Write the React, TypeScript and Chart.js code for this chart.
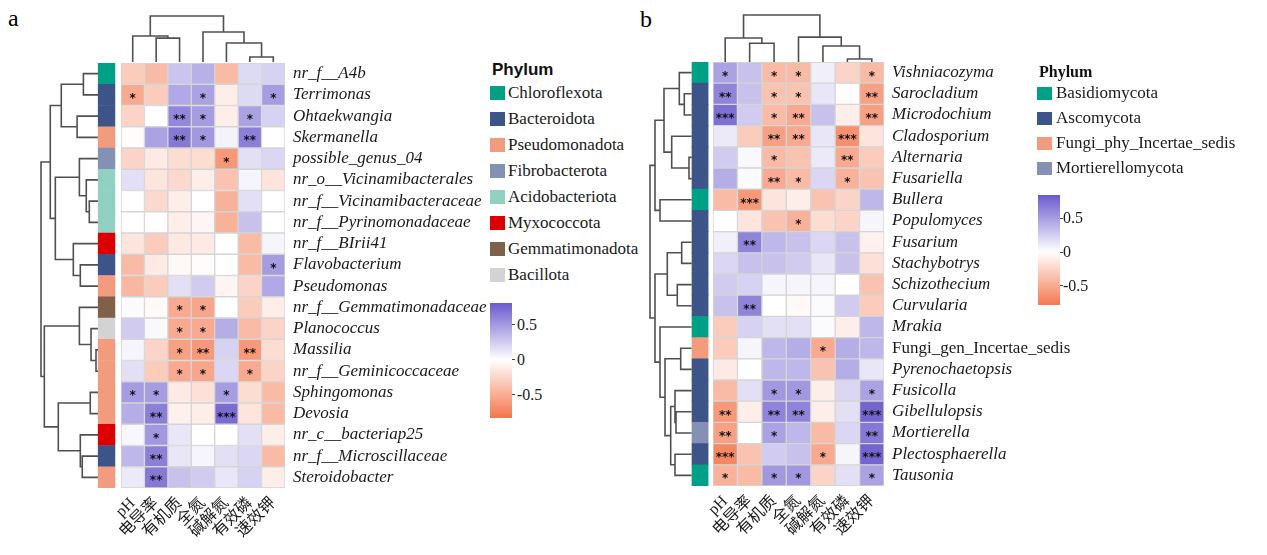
import React, { useEffect, useRef } from 'react';
import { Chart, registerables } from 'chart.js';

Chart.register(...registerables);

// ---------------- data ----------------
const envFactors = ['pH', '电导率', '有机质', '全氮', '碱解氮', '有效磷', '速效钾'];

const bactGenera = [
  'nr_f__A4b', 'Terrimonas', 'Ohtaekwangia', 'Skermanella', 'possible_genus_04',
  'nr_o__Vicinamibacterales', 'nr_f__Vicinamibacteraceae', 'nr_f__Pyrinomonadaceae', 'nr_f__BIrii41', 'Flavobacterium',
  'Pseudomonas', 'nr_f__Gemmatimonadaceae', 'Planococcus', 'Massilia', 'nr_f__Geminicoccaceae',
  'Sphingomonas', 'Devosia', 'nr_c__bacteriap25', 'nr_f__Microscillaceae', 'Steroidobacter',
];
const bactPhyla = [
  'Chloroflexota', 'Bacteroidota', 'Pseudomonadota', 'Fibrobacterota',
  'Acidobacteriota', 'Myxococcota', 'Gemmatimonadota', 'Bacillota',
];
const bactGenusPhylum = [
  'Chloroflexota', 'Bacteroidota', 'Bacteroidota', 'Pseudomonadota', 'Fibrobacterota',
  'Acidobacteriota', 'Acidobacteriota', 'Acidobacteriota', 'Myxococcota', 'Bacteroidota',
  'Pseudomonadota', 'Gemmatimonadota', 'Bacillota', 'Pseudomonadota', 'Pseudomonadota',
  'Pseudomonadota', 'Pseudomonadota', 'Myxococcota', 'Bacteroidota', 'Pseudomonadota',
];
const bactCorr = [
  [-0.30, -0.40, 0.28, 0.38, -0.40, 0.18, 0.22],
  [-0.50, -0.30, 0.42, 0.45, -0.10, 0.18, 0.48],
  [-0.25, 0.00, 0.58, 0.48, -0.10, 0.45, 0.22],
  [-0.02, 0.45, 0.65, 0.50, 0.06, 0.62, 0.00],
  [-0.25, -0.12, -0.20, -0.20, -0.60, 0.15, 0.20],
  [0.15, -0.15, -0.22, -0.10, -0.35, 0.05, -0.15],
  [0.00, -0.22, -0.10, 0.00, -0.45, 0.15, 0.00],
  [0.00, 0.00, -0.10, -0.05, -0.45, 0.30, 0.00],
  [-0.15, -0.30, -0.13, -0.12, 0.00, -0.40, 0.05],
  [-0.40, -0.12, -0.04, -0.02, 0.00, -0.40, 0.48],
  [-0.42, -0.30, 0.15, 0.25, -0.06, -0.25, 0.42],
  [0.02, -0.03, -0.50, -0.52, 0.00, -0.30, -0.10],
  [0.25, 0.03, -0.50, -0.50, 0.40, -0.40, -0.25],
  [0.05, -0.25, -0.55, -0.60, 0.22, -0.60, -0.20],
  [0.15, -0.30, -0.50, -0.52, 0.20, -0.50, -0.25],
  [0.48, 0.48, -0.12, -0.18, 0.48, -0.20, -0.40],
  [0.40, 0.62, -0.08, -0.10, 0.72, -0.15, -0.40],
  [0.04, 0.50, 0.12, 0.00, 0.00, 0.15, -0.10],
  [0.35, 0.62, 0.12, 0.05, 0.15, 0.20, -0.40],
  [0.10, 0.65, 0.30, 0.25, 0.12, 0.22, -0.10],
];
const bactSig = [
  ['', '', '', '', '', '', ''],
  ['*', '', '', '*', '', '', '*'],
  ['', '', '**', '*', '', '*', ''],
  ['', '', '**', '*', '', '**', ''],
  ['', '', '', '', '*', '', ''],
  ['', '', '', '', '', '', ''],
  ['', '', '', '', '', '', ''],
  ['', '', '', '', '', '', ''],
  ['', '', '', '', '', '', ''],
  ['', '', '', '', '', '', '*'],
  ['', '', '', '', '', '', ''],
  ['', '', '*', '*', '', '', ''],
  ['', '', '*', '*', '', '', ''],
  ['', '', '*', '**', '', '**', ''],
  ['', '', '*', '*', '', '*', ''],
  ['*', '*', '', '', '*', '', ''],
  ['', '**', '', '', '***', '', ''],
  ['', '*', '', '', '', '', ''],
  ['', '**', '', '', '', '', ''],
  ['', '**', '', '', '', '', ''],
];
// linkage: [left, right, height]; leaves 0..n-1, merged clusters n, n+1, ...
const bactColLinkage = [
  [5, 6, 0.109], [1, 2, 0.52], [0, 8, 0.565], [4, 7, 0.413], [3, 10, 0.652], [9, 11, 1.0],
];
const bactRowLinkage = [
  [0, 1, 0.26], [2, 3, 0.37], [20, 21, 0.646], [6, 7, 0.157], [5, 23, 0.21],
  [4, 24, 0.33], [9, 10, 0.314], [8, 26, 0.436], [25, 27, 0.75], [22, 28, 0.838],
  [13, 14, 0.04], [12, 30, 0.127], [11, 31, 0.33], [15, 16, 0.14], [18, 19, 0.28],
  [17, 34, 0.314], [33, 35, 0.698], [32, 36, 0.942], [29, 37, 1.0],
];

const fungGenera = [
  'Vishniacozyma', 'Sarocladium', 'Microdochium', 'Cladosporium', 'Alternaria',
  'Fusariella', 'Bullera', 'Populomyces', 'Fusarium', 'Stachybotrys',
  'Schizothecium', 'Curvularia', 'Mrakia', 'Fungi_gen_Incertae_sedis', 'Pyrenochaetopsis',
  'Fusicolla', 'Gibellulopsis', 'Mortierella', 'Plectosphaerella', 'Tausonia',
];
const fungUpright = ['Fungi_gen_Incertae_sedis'];
const fungPhyla = ['Basidiomycota', 'Ascomycota', 'Fungi_phy_Incertae_sedis', 'Mortierellomycota'];
const fungGenusPhylum = [
  'Basidiomycota', 'Ascomycota', 'Ascomycota', 'Ascomycota', 'Ascomycota',
  'Ascomycota', 'Basidiomycota', 'Ascomycota', 'Ascomycota', 'Ascomycota',
  'Ascomycota', 'Ascomycota', 'Basidiomycota', 'Fungi_phy_Incertae_sedis', 'Ascomycota',
  'Ascomycota', 'Ascomycota', 'Mortierellomycota', 'Ascomycota', 'Basidiomycota',
];
const fungCorr = [
  [0.45, 0.30, -0.40, -0.40, 0.08, -0.25, -0.40],
  [0.60, 0.30, -0.35, -0.35, 0.12, -0.02, -0.55],
  [0.70, 0.25, -0.40, -0.50, 0.30, -0.10, -0.55],
  [0.10, -0.30, -0.55, -0.50, 0.12, -0.65, -0.15],
  [0.25, 0.03, -0.40, -0.35, 0.10, -0.50, -0.30],
  [0.40, 0.02, -0.50, -0.40, 0.20, -0.45, -0.35],
  [-0.40, -0.60, -0.15, -0.10, -0.35, -0.25, 0.35],
  [0.00, -0.15, -0.35, -0.45, -0.20, -0.25, 0.05],
  [0.08, 0.60, 0.35, 0.30, 0.20, 0.30, -0.08],
  [0.20, 0.30, 0.30, 0.25, 0.12, 0.30, -0.18],
  [0.25, 0.22, 0.05, 0.05, 0.05, 0.00, -0.35],
  [0.30, 0.60, 0.00, -0.03, 0.02, 0.25, -0.30],
  [-0.30, 0.22, 0.15, 0.15, 0.02, -0.10, 0.35],
  [-0.30, 0.05, 0.35, 0.40, -0.50, 0.40, 0.35],
  [-0.12, 0.00, 0.35, 0.35, -0.35, 0.40, 0.12],
  [-0.40, 0.15, 0.50, 0.50, -0.10, 0.20, 0.45],
  [-0.60, -0.10, 0.60, 0.60, -0.10, 0.15, 0.75],
  [-0.55, 0.00, 0.45, 0.35, -0.40, 0.20, 0.65],
  [-0.70, -0.35, 0.25, 0.30, -0.50, 0.05, 0.75],
  [-0.45, -0.40, 0.50, 0.50, -0.25, 0.15, 0.45],
];
const fungSig = [
  ['*', '', '*', '*', '', '', '*'],
  ['**', '', '*', '*', '', '', '**'],
  ['***', '', '*', '**', '', '', '**'],
  ['', '', '**', '**', '', '***', ''],
  ['', '', '*', '', '', '**', ''],
  ['', '', '**', '*', '', '*', ''],
  ['', '***', '', '', '', '', ''],
  ['', '', '', '*', '', '', ''],
  ['', '**', '', '', '', '', ''],
  ['', '', '', '', '', '', ''],
  ['', '', '', '', '', '', ''],
  ['', '**', '', '', '', '', ''],
  ['', '', '', '', '', '', ''],
  ['', '', '', '', '*', '', ''],
  ['', '', '', '', '', '', ''],
  ['', '', '*', '*', '', '', '*'],
  ['**', '', '**', '**', '', '', '***'],
  ['**', '', '*', '', '', '', '**'],
  ['***', '', '', '', '*', '', '***'],
  ['*', '', '*', '*', '', '', '*'],
];
const fungColLinkage = [
  [5, 6, 0.064], [4, 7, 0.34], [3, 8, 0.53], [1, 2, 0.40], [0, 10, 0.51], [11, 9, 1.0],
];
const fungRowLinkage = [
  [1, 2, 7.4], [0, 20, 12.4], [4, 5, 2.7], [3, 22, 20], [21, 23, 27.7],
  [6, 7, 31.7], [24, 25, 36.7], [8, 9, 10], [10, 11, 14.4], [27, 28, 24.4],
  [13, 14, 11], [16, 17, 15.7], [15, 31, 16.7], [18, 19, 16.7], [32, 33, 21],
  [30, 34, 26.7], [12, 35, 31.7], [29, 36, 36.7], [26, 37, 41.7],
];

const legendTicks = [0.5, 0, -0.5];

// ---------------- styles ----------------
const phylumColors: Record<string, string> = {
  Chloroflexota: '#00A087', Bacteroidota: '#3C5488', Pseudomonadota: '#F39B7F',
  Fibrobacterota: '#8491B4', Acidobacteriota: '#91D1C2', Myxococcota: '#DC0000',
  Gemmatimonadota: '#7E6148', Bacillota: '#D3D3D3',
  Basidiomycota: '#00A087', Ascomycota: '#3C5488', Fungi_phy_Incertae_sedis: '#F39B7F',
  Mortierellomycota: '#8491B4',
};
const SERIF = "'Liberation Serif', 'Times New Roman', serif";
const CJK = "'Liberation Serif', 'Noto Sans CJK SC', serif";
const NEG = [244, 118, 76];
const POS = [106, 90, 205];
const LIM = 0.8;

function heatColor(v: number) {
  const t = Math.max(-1, Math.min(1, v / LIM));
  const end = t < 0 ? NEG : POS;
  const a = Math.abs(t);
  const c = end.map((e) => Math.round(255 + (e - 255) * a));
  return `rgb(${c[0]},${c[1]},${c[2]})`;
}

function dendroPoints(n: number, linkage: number[][], orient: 'top' | 'left') {
  const pos: number[] = [];
  const hts: number[] = [];
  for (let i = 0; i < n; i++) { pos[i] = i + 0.5; hts[i] = 0; }
  const pts: { x: number; y: number }[] = [];
  linkage.forEach(([a, b, h], k) => {
    const id = n + k;
    pos[id] = (pos[a] + pos[b]) / 2;
    hts[id] = h;
    const seg = [[pos[a], hts[a]], [pos[a], h], [pos[b], h], [pos[b], hts[b]]];
    seg.forEach(([p, q]) => pts.push(orient === 'top' ? { x: p, y: q } : { x: q, y: p }));
    pts.push({ x: NaN, y: NaN });
  });
  return pts;
}

const sigPlugin = {
  id: 'sigStars',
  afterDatasetsDraw(chart: any, _args: any, opts: any) {
    const sig = opts && opts.sig;
    if (!sig) return;
    const ctx = chart.ctx;
    ctx.save();
    ctx.fillStyle = '#111';
    ctx.font = "bold 12px 'DejaVu Sans'";
    ctx.textAlign = 'center';
    ctx.textBaseline = 'alphabetic';
    chart.data.datasets.forEach((ds: any, di: number) => {
      if (ds.col === undefined) return;
      chart.getDatasetMeta(di).data.forEach((el: any, ri: number) => {
        const s = sig[ri][ds.col];
        if (!s) return;
        const c = el.getCenterPoint();
        ctx.fillText(s, c.x, c.y + 7);
      });
    });
    ctx.restore();
  },
};

type HeatLayout = {
  cellsLeft: number; cellsRight: number; top: number; bottom: number;
  barFrom: number; barTo: number; labelW: number;
};

function HeatChart(props: {
  rows: string[]; phyla: string[]; values: number[][]; sig: string[][];
  upright: string[]; L: HeatLayout;
}) {
  const { rows, phyla, values, sig, upright, L } = props;
  const ref = useRef<HTMLCanvasElement>(null);
  const cellW = (L.cellsRight - L.cellsLeft) / envFactors.length;
  const chartLeft = L.cellsLeft - cellW;
  const canvasLeft = Math.floor(chartLeft) - 8;
  const padL = chartLeft - canvasLeft;
  const canvasTop = Math.floor(L.top) - 26;
  const padT = L.top - canvasTop;
  const AXIS_H = 62;
  const areaW = L.cellsRight - chartLeft;
  const areaH = L.bottom - L.top;
  const W = Math.ceil(padL + areaW + L.labelW);
  const H = Math.ceil(padT + areaH + AXIS_H);
  const padR = W - padL - areaW - L.labelW;
  const padB = H - padT - areaH - AXIS_H;

  useEffect(() => {
    if (!ref.current) return;
    const datasets: any[] = [
      {
        data: rows.map(() => [L.barFrom, L.barTo]),
        backgroundColor: phyla.map((p) => phylumColors[p]),
        borderWidth: 0, grouped: false, barPercentage: 1, categoryPercentage: 1,
      },
    ];
    envFactors.forEach((_, j) => {
      datasets.push({
        col: j,
        data: rows.map(() => [j, j + 1]),
        backgroundColor: values.map((r) => heatColor(r[j])),
        borderColor: '#d5d5d5', borderWidth: 1, borderSkipped: false,
        grouped: false, barPercentage: 1, categoryPercentage: 1,
      });
    });
    const chart = new Chart(ref.current, {
      type: 'bar',
      data: { labels: rows, datasets },
      options: {
        indexAxis: 'y',
        animation: false,
        responsive: false,
        events: [],
        layout: { padding: { left: padL, top: padT, right: padR, bottom: padB } },
        plugins: { legend: { display: false }, tooltip: { enabled: false }, sigStars: { sig } } as any,
        scales: {
          x: {
            type: 'linear', min: -1, max: envFactors.length,
            grid: { display: false, drawTicks: false }, border: { display: false },
            afterBuildTicks: (s: any) => { s.ticks = envFactors.map((_, i) => ({ value: i + 0.5 })); },
            afterFit: (s: any) => { s.height = AXIS_H; },
            ticks: {
              autoSkip: false, minRotation: 45, maxRotation: 45, padding: 6,
              color: '#1a1a1a',
              font: { family: CJK, size: 16 },
              callback: (_v: any, i: number) => envFactors[i],
            },
          },
          y: {
            type: 'category', position: 'right',
            grid: { display: false, drawTicks: false }, border: { display: false },
            afterFit: (s: any) => { s.width = L.labelW; },
            ticks: {
              padding: 8, color: '#1a1a1a', autoSkip: false,
              font: (ctx: any) => ({
                family: SERIF, size: 17,
                style: upright.includes(rows[ctx.index]) ? 'normal' : 'italic',
              }),
            },
          },
        },
      } as any,
      plugins: [sigPlugin as any],
    });
    return () => chart.destroy();
  }, []);

  return (
    <canvas ref={ref} width={W} height={H}
      style={{ position: 'absolute', left: canvasLeft, top: canvasTop, width: W, height: H }} />
  );
}

function Dendro(props: {
  n: number; linkage: number[][]; orient: 'top' | 'left';
  left: number; top: number; width: number; height: number;
}) {
  const { n, linkage, orient, left, top, width, height } = props;
  const ref = useRef<HTMLCanvasElement>(null);
  const P = 4;
  const W = Math.ceil(width + 2 * P);
  const H = Math.ceil(height + 2 * P);
  useEffect(() => {
    if (!ref.current) return;
    const rootH = linkage[linkage.length - 1][2];
    const lenScale = { type: 'linear', display: false, min: 0, max: n };
    const hScale = { type: 'linear', display: false, min: 0, max: rootH };
    const scales = orient === 'top'
      ? { x: { ...lenScale }, y: { ...hScale } }
      : { x: { ...hScale, reverse: true }, y: { ...lenScale, reverse: true } };
    const chart = new Chart(ref.current, {
      type: 'scatter',
      data: {
        datasets: [{
          data: dendroPoints(n, linkage, orient),
          showLine: true, spanGaps: false, borderColor: '#505050', borderWidth: 1.6,
          pointRadius: 0, tension: 0, clip: false,
        } as any],
      },
      options: {
        animation: false, responsive: false, events: [],
        layout: { padding: { left: P, top: P, right: W - width - P, bottom: H - height - P } },
        plugins: { legend: { display: false }, tooltip: { enabled: false } },
        scales: scales as any,
      },
    });
    return () => chart.destroy();
  }, []);
  return (
    <canvas ref={ref} width={W} height={H}
      style={{ position: 'absolute', left: left - P, top: top - P, width: W, height: H }} />
  );
}

function Legend(props: {
  phyla: string[]; left: number; textLeft: number; titleTop: number; titleFont: string;
  itemTop: number; step: number; sq: [number, number];
  barLeft: number; barTop: number; barH: number; vmax: number; vmin: number; tickLeft: number;
}) {
  const p = props;
  const yOf = (v: number) => p.barTop + ((p.vmax - v) / (p.vmax - p.vmin)) * p.barH;
  const zeroPct = ((p.vmax - 0) / (p.vmax - p.vmin)) * 100;
  return (
    <>
      <div style={{ position: 'absolute', left: p.left + 2, top: p.titleTop, font: p.titleFont, lineHeight: '20px', color: '#111' }}>
        Phylum
      </div>
      {p.phyla.map((ph, i) => {
        const cy = p.itemTop + i * p.step;
        return (
          <React.Fragment key={ph}>
            <div style={{ position: 'absolute', left: p.left, top: cy - p.sq[1] / 2, width: p.sq[0], height: p.sq[1], background: phylumColors[ph] }} />
            <div style={{ position: 'absolute', left: p.textLeft, top: cy - 10, lineHeight: '20px', fontFamily: SERIF, fontSize: 17, color: '#1a1a1a', whiteSpace: 'nowrap' }}>
              {ph}
            </div>
          </React.Fragment>
        );
      })}
      <div style={{
        position: 'absolute', left: p.barLeft, top: p.barTop, width: 22, height: p.barH,
        background: `linear-gradient(to bottom, ${heatColor(p.vmax)} 0%, #ffffff ${zeroPct}%, ${heatColor(p.vmin)} 100%)`,
      }} />
      {legendTicks.map((t) => (
        <React.Fragment key={t}>
          <div style={{ position: 'absolute', left: p.barLeft + 22, top: yOf(t) - 0.5, width: 3, height: 1, background: '#444' }} />
          <div style={{ position: 'absolute', left: p.tickLeft, top: yOf(t) - 10, lineHeight: '20px', fontFamily: SERIF, fontSize: 16, color: '#1a1a1a' }}>
            {String(t)}
          </div>
        </React.Fragment>
      ))}
    </>
  );
}

export default function App() {
  return (
    <div style={{ position: 'absolute', left: 0, top: 0, width: 1267, height: 555, background: '#fff', overflow: 'hidden' }}>
      <div style={{ position: 'absolute', left: 8, top: 6, fontFamily: SERIF, fontSize: 24, lineHeight: '24px' }}>a</div>
      <div style={{ position: 'absolute', left: 640, top: 7, fontFamily: SERIF, fontSize: 24, lineHeight: '24px' }}>b</div>

      <Dendro n={7} linkage={bactColLinkage} orient="top" left={121} top={16} width={164} height={46} />
      <Dendro n={20} linkage={bactRowLinkage} orient="left" left={40.7} top={63} width={57.3} height={425} />
      <HeatChart rows={bactGenera} phyla={bactGenusPhylum} values={bactCorr} sig={bactSig} upright={[]}
        L={{ cellsLeft: 121, cellsRight: 285, top: 63, bottom: 488, barFrom: -0.98, barTo: -0.26, labelW: 205 }} />
      <Legend phyla={bactPhyla} left={490} textLeft={508} titleTop={60} titleFont={`bold 17px 'Liberation Sans', Arial, sans-serif`}
        itemTop={93} step={26} sq={[15, 14]} barLeft={490} barTop={303} barH={115} vmax={0.81} vmin={-0.83} tickLeft={517} />

      <Dendro n={7} linkage={fungColLinkage} orient="top" left={713} top={15} width={171} height={47} />
      <Dendro n={20} linkage={fungRowLinkage} orient="left" left={650} top={62} width={41.7} height={424} />
      <HeatChart rows={fungGenera} phyla={fungGenusPhylum} values={fungCorr} sig={fungSig} upright={fungUpright}
        L={{ cellsLeft: 713, cellsRight: 884, top: 62, bottom: 486, barFrom: -0.86, barTo: -0.2, labelW: 190 }} />
      <Legend phyla={fungPhyla} left={1037} textLeft={1056} titleTop={62} titleFont={`bold 16px 'Liberation Serif', serif`}
        itemTop={93} step={25} sq={[15, 13]} barLeft={1038} barTop={195} barH={110} vmax={0.84} vmin={-0.78} tickLeft={1063} />
    </div>
  );
}
